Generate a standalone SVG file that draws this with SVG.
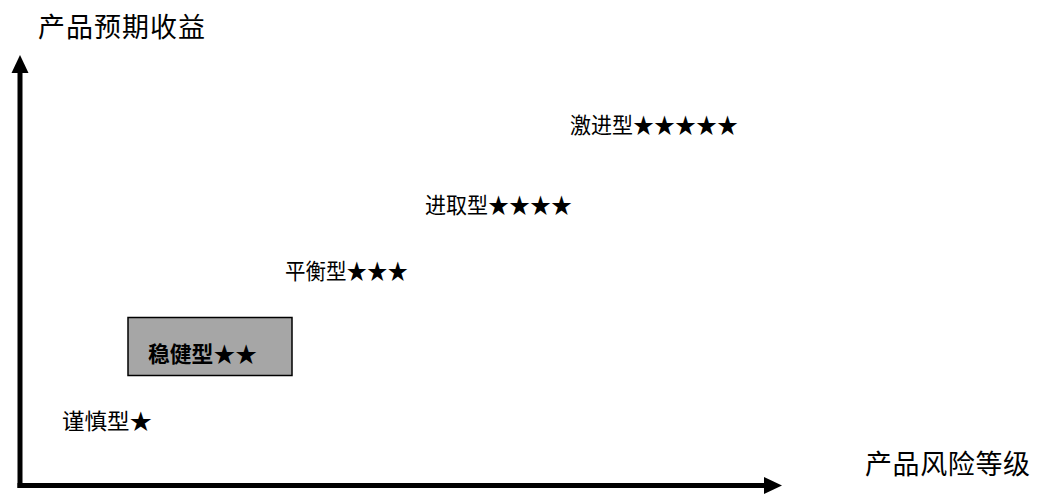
<svg xmlns="http://www.w3.org/2000/svg" width="1037" height="494" viewBox="0 0 1037 494">
<style>
text{font-family:"Noto Sans CJK SC","Liberation Sans",sans-serif;fill:#000}
.axis{font-size:27px}
.lbl{font-size:22px}
.bold{font-weight:bold}
.ax{stroke:#000;stroke-width:5;fill:none}
</style>
<rect width="1037" height="494" fill="#fff"/>
<g id="connectors">
<line class="ax" x1="20" y1="488" x2="20" y2="70"/>
<polygon points="20,55 11.5,73 28.5,73" fill="#000"/>
<line class="ax" x1="17.5" y1="485.5" x2="766" y2="485.5"/>
<polygon points="782,485.5 764,477 764,494" fill="#000"/>
</g>
<g id="y-axis-label"><text class="axis" x="38" y="37" textLength="167">产品预期收益</text></g>
<g id="x-axis-label"><text class="axis" x="865" y="474" textLength="165">产品风险等级</text></g>
<g id="aggressive"><text class="lbl" x="570" y="133" textLength="168" lengthAdjust="spacingAndGlyphs">激进型★★★★★</text></g>
<g id="growth"><text class="lbl" x="425" y="213" textLength="147" lengthAdjust="spacingAndGlyphs">进取型★★★★</text></g>
<g id="balanced"><text class="lbl" x="285" y="279" textLength="123" lengthAdjust="spacingAndGlyphs">平衡型★★★</text></g>
<g id="steady">
<rect x="128" y="317.5" width="164" height="58" fill="#a6a6a6" stroke="#000" stroke-width="1.5"/>
<text class="lbl bold" x="148" y="362" textLength="109" lengthAdjust="spacingAndGlyphs">稳健型★★</text>
</g>
<g id="cautious"><text class="lbl" x="62" y="429" textLength="90" lengthAdjust="spacingAndGlyphs">谨慎型★</text></g>
</svg>
